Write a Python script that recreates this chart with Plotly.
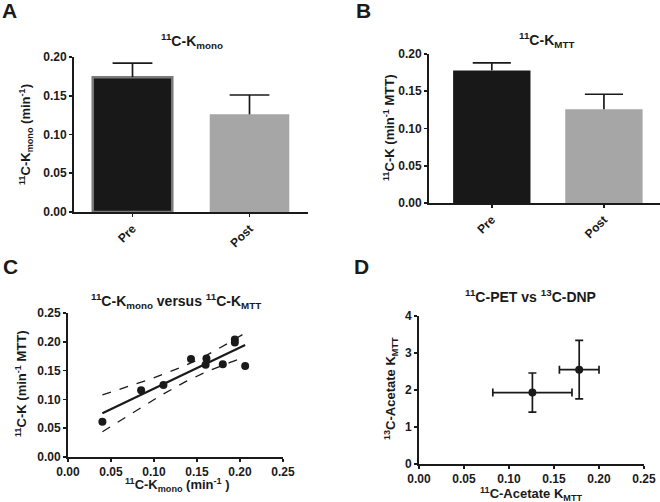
import numpy as np
import plotly.graph_objects as go

W, H = 660, 502

# ---- data ----
groups = ["Pre", "Post"]
kmono_mean = [0.174, 0.126]
kmono_sem = [0.018, 0.025]
kmtt_mean = [0.178, 0.126]
kmtt_sem = [0.010, 0.020]

corr_x = [0.040, 0.085, 0.111, 0.143, 0.160, 0.161, 0.180, 0.194, 0.194, 0.206]
corr_y = [0.061, 0.116, 0.125, 0.170, 0.160, 0.171, 0.161, 0.204, 0.199, 0.158]

pet_x = [0.126, 0.178]
pet_xerr = [0.044, 0.022]
dnp_y = [1.93, 2.55]
dnp_yerr = [0.53, 0.79]

T975_8 = 2.306  # t critical value, 95% two-sided, df = n-2

FONT = "Liberation Sans, Arial, sans-serif"
INK = "#1a1a1a"


def px(x):
    return x / W


def py(y):
    return 1 - y / H


fig = go.Figure()
pos = list(range(len(groups)))


def upper_errors(means, sems, xa, ya, cap):
    xs, ys = [], []
    for i, (m, e) in enumerate(zip(means, sems)):
        xs += [i, i, None, i - cap, i + cap, None]
        ys += [m, m + e, None, m + e, m + e, None]
    fig.add_trace(go.Scatter(x=xs, y=ys, mode="lines", xaxis=xa, yaxis=ya,
                             line=dict(color=INK, width=1.7), showlegend=False,
                             hoverinfo="skip"))


# ---- Panel A ----
fig.add_trace(go.Bar(
    x=pos, y=kmono_mean, xaxis="x", yaxis="y",
    marker=dict(color=["#181818", "#a6a6a6"],
                line=dict(color=["#7a7a7a", "#a6a6a6"], width=[2.5, 0])),
    width=0.68, showlegend=False))
upper_errors(kmono_mean, kmono_sem, "x", "y", 0.17)

# ---- Panel B ----
fig.add_trace(go.Bar(
    x=pos, y=kmtt_mean, xaxis="x2", yaxis="y2",
    marker=dict(color=["#181818", "#a6a6a6"], line=dict(width=0)),
    width=0.69, showlegend=False))
upper_errors(kmtt_mean, kmtt_sem, "x2", "y2", 0.17)

# ---- Panel C: regression with 95% confidence band ----
cx = np.array(corr_x)
cy = np.array(corr_y)
n = len(cx)
slope, intercept = np.polyfit(cx, cy, 1)
resid = cy - (slope * cx + intercept)
s = np.sqrt(np.sum(resid ** 2) / (n - 2))
xm = cx.mean()
sxx = np.sum((cx - xm) ** 2)
xl = np.linspace(cx.min(), cx.max(), 60)
yl = slope * xl + intercept
half = T975_8 * s * np.sqrt(1 / n + (xl - xm) ** 2 / sxx)

fig.add_trace(go.Scatter(x=xl, y=yl + half, mode="lines", xaxis="x3", yaxis="y3",
                         line=dict(color=INK, width=1.3, dash="dash"), showlegend=False))
fig.add_trace(go.Scatter(x=xl, y=yl - half, mode="lines", xaxis="x3", yaxis="y3",
                         line=dict(color=INK, width=1.3, dash="dash"), showlegend=False))
fig.add_trace(go.Scatter(x=xl, y=yl, mode="lines", xaxis="x3", yaxis="y3",
                         line=dict(color=INK, width=2.2), showlegend=False))
fig.add_trace(go.Scatter(x=corr_x, y=corr_y, mode="markers", xaxis="x3", yaxis="y3",
                         marker=dict(color=INK, size=8), showlegend=False))

# ---- Panel D ----
fig.add_trace(go.Scatter(
    x=pet_x, y=dnp_y, mode="markers", xaxis="x4", yaxis="y4",
    marker=dict(color=INK, size=8),
    error_x=dict(type="data", array=pet_xerr, color=INK, thickness=1.7, width=4),
    error_y=dict(type="data", array=dnp_yerr, color=INK, thickness=1.7, width=4),
    showlegend=False))

tickfont = dict(family=FONT, size=12, color=INK, weight="bold")
axis_common = dict(showgrid=False, zeroline=False, showline=True, linecolor=INK,
                   linewidth=2, ticks="outside", ticklen=3, tickwidth=1.7,
                   tickcolor=INK, tickfont=tickfont, automargin=False)

layout = dict(
    template="none",
    width=W, height=H, margin=dict(l=0, r=0, t=0, b=0, pad=0),
    plot_bgcolor="white", paper_bgcolor="white",
    font=dict(family=FONT, color=INK),
)

cat_ticks = dict(tickvals=pos, ticktext=groups, tickangle=-45)
# A axes
layout["xaxis"] = dict(axis_common, domain=[px(74), px(308)], range=[-0.5, 1.5],
                       anchor="y", **cat_ticks)
layout["yaxis"] = dict(axis_common, domain=[py(212), py(57)], range=[0, 0.2],
                       anchor="x", tickvals=[0, 0.05, 0.1, 0.15, 0.2], tickformat=".2f")
# B axes
layout["xaxis2"] = dict(axis_common, domain=[px(429), px(660)], range=[-0.56, 1.5],
                        anchor="y2", **cat_ticks)
layout["yaxis2"] = dict(axis_common, domain=[py(203), py(54)], range=[0, 0.2],
                        anchor="x2", tickvals=[0, 0.05, 0.1, 0.15, 0.2], tickformat=".2f")
# C axes
layout["xaxis3"] = dict(axis_common, domain=[px(68), px(283)], range=[0, 0.25],
                        anchor="y3", tickvals=[0, 0.05, 0.1, 0.15, 0.2, 0.25], tickformat=".2f")
layout["yaxis3"] = dict(axis_common, domain=[py(457), py(313)], range=[0, 0.25],
                        anchor="x3", tickvals=[0, 0.05, 0.1, 0.15, 0.2, 0.25], tickformat=".2f")
# D axes
layout["xaxis4"] = dict(axis_common, domain=[px(419), px(644)], range=[0, 0.25],
                        anchor="y4", tickvals=[0, 0.05, 0.1, 0.15, 0.2, 0.25], tickformat=".2f")
layout["yaxis4"] = dict(axis_common, domain=[py(464), py(316)], range=[0, 4],
                        anchor="x4", tickvals=[0, 1, 2, 3, 4])

fig.update_layout(**layout)


def ann(text, x, y, size=11, angle=0, xanchor="center", yanchor="middle"):
    fig.add_annotation(text=text, x=px(x), y=py(y), xref="paper", yref="paper",
                       showarrow=False, textangle=angle, xanchor=xanchor, yanchor=yanchor,
                       font=dict(family=FONT, size=size, color=INK, weight="bold"))


# panel letters
ann("A", 0, 11, size=21, xanchor="left")
ann("B", 354, 11, size=21, xanchor="left")
ann("C", 1, 266, size=21, xanchor="left")
ann("D", 352, 266, size=21, xanchor="left")

# titles
ann("<sup>11</sup>C-K<sub>mono</sub>", 192, 41, size=14)
ann("<sup>11</sup>C-K<sub>MTT</sub>", 546, 40, size=14)
ann("<sup>11</sup>C-K<sub>mono</sub> versus <sup>11</sup>C-K<sub>MTT</sub>", 176, 301, size=14)
ann("<sup>11</sup>C-PET vs <sup>13</sup>C-DNP", 530, 296, size=14)

# y axis titles
ann("<sup>11</sup>C-K<sub>mono</sub> (min<sup>-1</sup>)", 26, 134, size=13, angle=-90)
ann("<sup>11</sup>C-K (min<sup>-1</sup> MTT)", 389, 128, size=13, angle=-90)
ann("<sup>11</sup>C-K (min<sup>-1</sup> MTT)", 21, 384, size=13, angle=-90)
ann("<sup>13</sup>C-Acetate K<sub>MTT</sub>", 391, 389, size=13, angle=-90)

# x axis titles
ann("<sup>11</sup>C-K<sub>mono</sub> (min<sup>-1</sup> )", 177, 485, size=13)
ann("<sup>11</sup>C-Acetate K<sub>MTT</sub>", 531, 494, size=13)

fig.write_html("out.html", config={"displayModeBar": False, "staticPlot": True},
               post_script="document.body.style.margin='0';document.body.style.overflow='hidden';")
